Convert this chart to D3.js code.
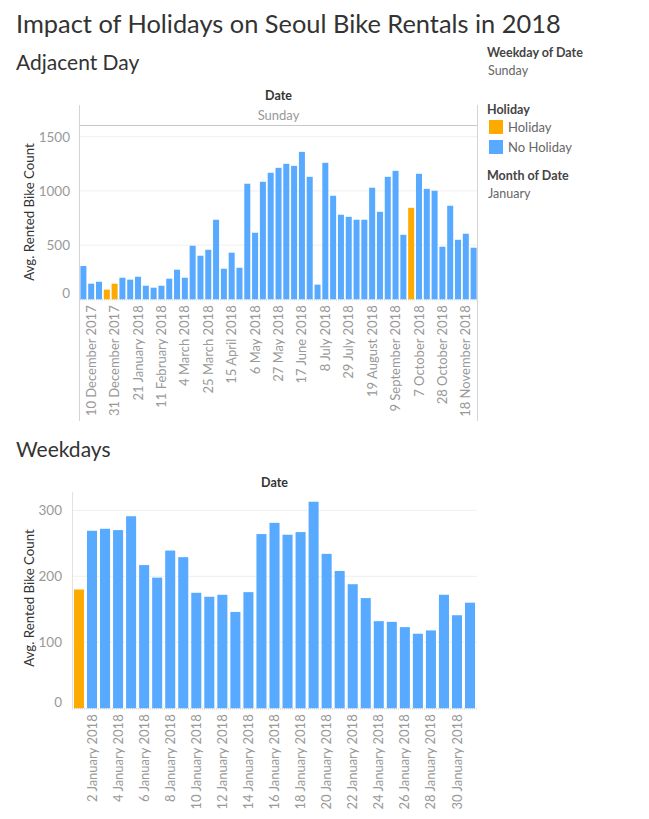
<!DOCTYPE html>
<html>
<head>
<meta charset="utf-8">
<script src="https://cdn.jsdelivr.net/npm/d3@7"></script>
<style>
body { margin: 0; background: #fff; font-family: Lato, "Open Sans", sans-serif; }
.axis path, .axis line { display: none; }
.axis text { fill: #999; font-family: Lato, sans-serif; }
</style>
</head>
<body>
<svg width="649" height="819"></svg>
<script>
// Sundays (Adjacent Day)
var sundayDates = ["3 December 2017","10 December 2017","17 December 2017","24 December 2017","31 December 2017",
  "7 January 2018","14 January 2018","21 January 2018","28 January 2018",
  "4 February 2018","11 February 2018","18 February 2018","25 February 2018",
  "4 March 2018","11 March 2018","18 March 2018","25 March 2018",
  "1 April 2018","8 April 2018","15 April 2018","22 April 2018","29 April 2018",
  "6 May 2018","13 May 2018","20 May 2018","27 May 2018",
  "3 June 2018","10 June 2018","17 June 2018","24 June 2018",
  "1 July 2018","8 July 2018","15 July 2018","22 July 2018","29 July 2018",
  "5 August 2018","12 August 2018","19 August 2018","26 August 2018",
  "2 September 2018","9 September 2018","16 September 2018","23 September 2018",
  "7 October 2018","14 October 2018","21 October 2018","28 October 2018",
  "4 November 2018","11 November 2018","18 November 2018","25 November 2018"];
var sundayCounts = [307,144,162,89,144,199,181,208,125,107,125,190,273,199,494,402,457,734,282,430,291,
  1066,614,1084,1167,1213,1250,1231,1360,1130,135,1259,955,780,761,734,734,1029,807,1130,1185,595,844,
  1158,1019,1001,485,863,549,605,476];
var sundayHoliday = ["24 December 2017","31 December 2017","23 September 2018"];
var sundayTicks = ["10 December 2017","31 December 2017","21 January 2018","11 February 2018","4 March 2018",
  "25 March 2018","15 April 2018","6 May 2018","27 May 2018","17 June 2018","8 July 2018","29 July 2018",
  "19 August 2018","9 September 2018","7 October 2018","28 October 2018","18 November 2018"];
var sundayYTicks = [0, 500, 1000, 1500];

// January weekdays
var janDates = d3.range(1, 32).map(function(d) { return d + " January 2018"; });
var janCounts = [180,269,272,270,291,217,198,239,229,175,169,172,146,176,264,281,263,267,313,234,208,188,167,
  132,131,123,113,118,172,141,160];
var janHoliday = ["1 January 2018"];
var janTicks = ["2 January 2018","4 January 2018","6 January 2018","8 January 2018","10 January 2018",
  "12 January 2018","14 January 2018","16 January 2018","18 January 2018","20 January 2018",
  "22 January 2018","24 January 2018","26 January 2018","28 January 2018","30 January 2018"];
var janYTicks = [0, 100, 200, 300];

var colHoliday = "#ffaa00", colNormal = "#57aaff";

var svg = d3.select("svg");

svg.append("text").attr("x", 16).attr("y", 33)
  .style("font-size", "25.4px").style("fill", "#333").text("Impact of Holidays on Seoul Bike Rentals in 2018");

// legend
var leg = svg.append("g").style("font-size", "12.5px");
leg.append("text").attr("x", 487).attr("y", 57).style("font-weight", "bold").style("fill", "#444").text("Weekday of Date");
leg.append("text").attr("x", 488).attr("y", 75).style("fill", "#666").text("Sunday");
leg.append("text").attr("x", 487).attr("y", 114).style("font-weight", "bold").style("fill", "#444").text("Holiday");
[["Holiday", colHoliday], ["No Holiday", colNormal]].forEach(function(d, i) {
  leg.append("rect").attr("x", 489).attr("y", 120 + i * 20).attr("width", 14).attr("height", 14).attr("fill", d[1]);
  leg.append("text").attr("x", 508).attr("y", 132 + i * 20).style("fill", "#666").style("font-size", "13px").text(d[0]);
});
leg.append("text").attr("x", 487).attr("y", 180).style("font-weight", "bold").style("fill", "#444").text("Month of Date");
leg.append("text").attr("x", 488).attr("y", 198).style("fill", "#666").text("January");

function drawChart(o) {
  var g = svg.append("g");
  g.append("text").attr("x", 16).attr("y", o.titleY).style("font-size", "21px").style("fill", "#333").text(o.title);

  var x = d3.scaleBand().domain(o.dates).range([o.x0, o.x1]).paddingInner(o.pad).paddingOuter(o.padOuter);
  var y = d3.scaleLinear().domain([0, o.yTicks[o.yTicks.length - 1]]).range([o.y0, o.yTop]);

  // header
  g.append("text").attr("x", (o.x0 + o.x1) / 2).attr("y", o.headerY).attr("text-anchor", "middle")
    .style("font-size", "12.5px").style("font-weight", "bold").style("fill", "#333").text("Date");

  // gridlines
  g.selectAll(".grid").data(o.yTicks.slice(1)).enter().append("line")
    .attr("x1", o.x0).attr("x2", o.x1).attr("y1", function(d) { return y(d); }).attr("y2", function(d) { return y(d); })
    .attr("stroke", "#efefef");

  // y axis (zero label sits a bit above the baseline, tableau style)
  g.append("g").attr("class", "axis").attr("transform", "translate(" + (o.x0 - 7) + ",0)")
    .call(d3.axisLeft(y).tickValues(o.yTicks).tickSize(0).tickFormat(d3.format("d")))
    .selectAll("text").style("font-size", "13.5px")
    .attr("y", function(d) { return d === 0 ? -6 : 0; });

  g.append("text").attr("transform", "translate(" + o.ytX + "," + o.ytY + ") rotate(-90)")
    .attr("text-anchor", "middle").style("font-size", "13.3px").style("fill", "#333").text("Avg. Rented Bike Count");

  // bars
  g.selectAll(".bar").data(o.dates).enter().append("rect")
    .attr("x", function(d) { return x(d); })
    .attr("width", x.bandwidth())
    .attr("y", function(d, i) { return y(o.counts[i]); })
    .attr("height", function(d, i) { return o.y0 - y(o.counts[i]); })
    .attr("fill", function(d) { return o.holiday.indexOf(d) >= 0 ? colHoliday : colNormal; });

  // baseline
  g.append("line").attr("x1", o.x0).attr("x2", o.x1).attr("y1", o.y0 + 0.5).attr("y2", o.y0 + 0.5)
    .attr("stroke", "#c8c8c8").attr("stroke-dasharray", "1,1");

  // x axis
  g.append("g").attr("class", "axis").attr("transform", "translate(0," + (o.y0 + 4) + ")")
    .call(d3.axisBottom(x).tickValues(o.ticks).tickSize(0))
    .selectAll("text")
    .style("font-size", "13px")
    .attr("text-anchor", "end")
    .attr("transform", "rotate(-90)")
    .attr("x", -2).attr("y", 0).attr("dy", "0.35em");

  return g;
}

var topChart = drawChart({
  title: "Adjacent Day", titleY: 70, dates: sundayDates, counts: sundayCounts, holiday: sundayHoliday,
  ticks: sundayTicks, yTicks: sundayYTicks, x0: 80, x1: 477, pad: 0.23, padOuter: 0.05,
  y0: 299.3, yTop: 136.7, headerY: 100, ytX: 34, ytY: 212
});
topChart.append("text").attr("x", 278.5).attr("y", 120).attr("text-anchor", "middle")
  .style("font-size", "13px").style("fill", "#999").text("Sunday");
topChart.append("line").attr("x1", 80).attr("x2", 477).attr("y1", 125.5).attr("y2", 125.5).attr("stroke", "#c8c8c8");
topChart.append("line").attr("x1", 79.5).attr("x2", 79.5).attr("y1", 105).attr("y2", 421).attr("stroke", "#d4d4d4");
topChart.append("line").attr("x1", 477.5).attr("x2", 477.5).attr("y1", 105).attr("y2", 421).attr("stroke", "#d4d4d4");

var bottomChart = drawChart({
  title: "Weekdays", titleY: 457, dates: janDates, counts: janCounts, holiday: janHoliday,
  ticks: janTicks, yTicks: janYTicks, x0: 72, x1: 477, pad: 0.23, padOuter: 0.15,
  y0: 708.3, yTop: 510.3, headerY: 487, ytX: 34, ytY: 598
});
bottomChart.append("line").attr("x1", 72.5).attr("x2", 72.5).attr("y1", 492).attr("y2", 709).attr("stroke", "#e2e2e2");
</script>
</body>
</html>
